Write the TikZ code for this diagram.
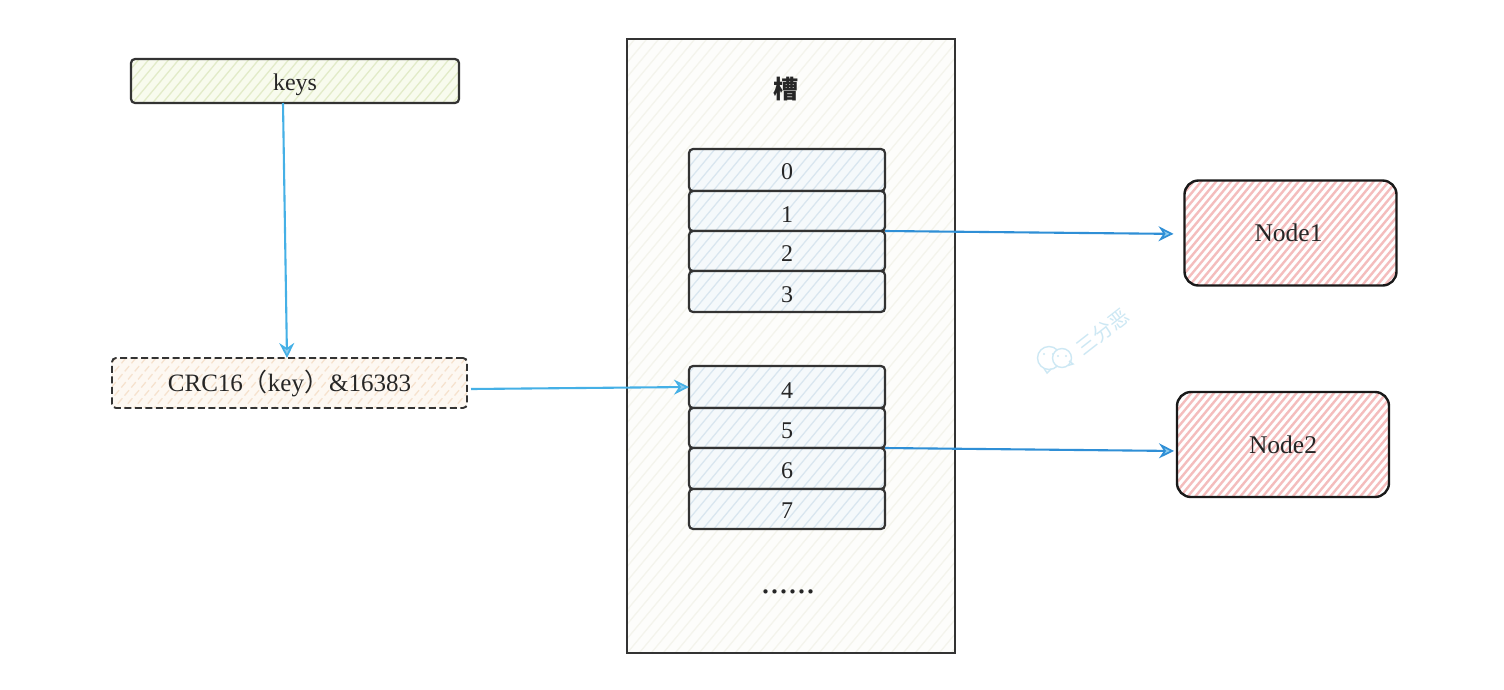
\documentclass[tikz,border=0pt]{standalone}
\usepackage{fontspec}
\setmainfont{Liberation Serif}
\newfontfamily\cjk{Noto Sans CJK SC}
\usetikzlibrary{arrows.meta,positioning,calc}
\definecolor{inkline}{HTML}{333333}
\definecolor{arrowa}{HTML}{45B0E6}
\definecolor{arrowb}{HTML}{2F8FD6}
\definecolor{tipfill}{HTML}{8CCBEE}
\definecolor{wmark}{HTML}{CDE8F4}
\tikzset{
  hatched/.style n args={4}{
    fill=#1,
    path picture={
      \foreach \k in {0,...,150}{
        \draw[#2,line width=#4] ({\k*#3-520-400},480) -- ({\k*#3-520+400},-480);
      }
    }
  },
  sizedbox/.style 2 args={minimum width=#1,minimum height=#2,inner sep=0pt,outer sep=0pt},
  sketchbox/.style={draw=inkline,line width=2.2pt,rounded corners=4pt,font=\fontsize{24}{28}\selectfont,text=black!85},
  slotbox/.style 2 args={sketchbox,sizedbox={196pt}{#1},text height=#2,text depth=0pt,hatched={slotfill}{slothatch}{11}{1.3pt}},
  redbox/.style={sketchbox,line width=2.4pt,draw=black!90,rounded corners=14pt,sizedbox={212pt}{105pt},font=\fontsize{25.5}{28}\selectfont,hatched={white}{redhatch}{7.5}{2.4pt}},
  link/.style={line width=2.1pt,-{Stealth[length=15pt,width=15pt,fill=tipfill,line width=1.7pt,inset=5pt]}},
}
\definecolor{slotfill}{HTML}{F5F9FB}
\definecolor{slothatch}{HTML}{D9E6EF}
\definecolor{redhatch}{HTML}{F4BDBD}
\definecolor{keyfill}{HTML}{F8FBEE}
\definecolor{keyhatch}{HTML}{E2EBC8}
\definecolor{crcfill}{HTML}{FDF8F2}
\definecolor{crchatch}{HTML}{F6E2CE}
\definecolor{slotsfill}{HTML}{FDFDFB}
\definecolor{slotshatch}{HTML}{F4F4EC}
\begin{document}
\begin{tikzpicture}[x=1pt,y=-1pt]
\useasboundingbox (0,0) rectangle (1504,689);
\fill[white] (0,0) rectangle (1504,689);

% container
\node[draw=inkline,line width=1.8pt,sizedbox={328pt}{614pt},hatched={slotsfill}{slotshatch}{12}{1.3pt}] (slots) at (791,346) {};
\node[font=\cjk\bfseries\fontsize{25}{28}\selectfont,text=black!85] (title) at (786,89) {槽};
\node[font=\fontsize{36}{38}\selectfont,text=black!85] (more) at (788,592) {......};

% slots
\node[slotbox={42pt}{18pt}] (s0) at (787,170) {0};
\node[slotbox={40pt}{22pt}] (s1) at (787,211) {1};
\node[slotbox={40pt}{20pt}] (s2) at (787,251) {2};
\node[slotbox={41pt}{21pt}] (s3) at (787,291.5) {3};
\node[slotbox={42pt}{22pt}] (s4) at (787,387) {4};
\node[slotbox={40pt}{20pt}] (s5) at (787,428) {5};
\node[slotbox={41pt}{19pt}] (s6) at (787,468.5) {6};
\node[slotbox={40pt}{18pt}] (s7) at (787,509) {7};

% left column
\node[sketchbox,sizedbox={328pt}{44pt},text height=19pt,text depth=0pt,hatched={keyfill}{keyhatch}{10}{1.3pt}] (keys) at (295,81) {keys};
\node[sketchbox,line width=1.9pt,dashed,dash pattern=on 7pt off 3.5pt,sizedbox={355pt}{50pt},font=\fontsize{25}{28}\selectfont,text height=17pt,text depth=0pt,hatched={crcfill}{crchatch}{10}{1.3pt}] (crc) at (289.5,383) {CRC16{\cjk（}key{\cjk）}\&16383};

% right column
\node[redbox] (node1) at (1290.5,233) {\kern-4pt Node1};
\node[redbox,text height=17pt,text depth=0pt] (node2) at (1283,444.5) {Node2};

% connectors
\draw[link,arrowa] ([xshift=-12pt]keys.south) -- ([xshift=-2.5pt]crc.north);
\draw[link,arrowa] ([xshift=4pt,yshift=-6pt]crc.east) -- (s4.west);
\draw[link,arrowb,shorten >=11pt] (s1.south east) -- ([yshift=-1pt]node1.west);
\draw[link,arrowb,shorten >=3pt] (s5.south east) -- ([yshift=-6.5pt]node2.west);

% watermark
\node[rotate=38,text=wmark,font=\cjk\fontsize{20}{22}\selectfont] (wm) at (1103,332) {三分恶};
\draw[wmark,line width=1.4pt,fill=white] (1049,358) circle (11.5pt);
\fill[wmark] (1044,354) circle (1.2pt) (1053,354) circle (1.2pt);
\draw[wmark,line width=1.4pt] (1044,368.5) -- (1047,373) -- (1051,369);
\draw[wmark,line width=1.4pt,fill=white] (1062,358) circle (9.5pt);
\fill[wmark] (1058,356) circle (1.2pt) (1066,356) circle (1.2pt);
\draw[wmark,line width=1.4pt] (1069,361) -- (1073,364) -- (1068,365.5);
\end{tikzpicture}
\end{document}
